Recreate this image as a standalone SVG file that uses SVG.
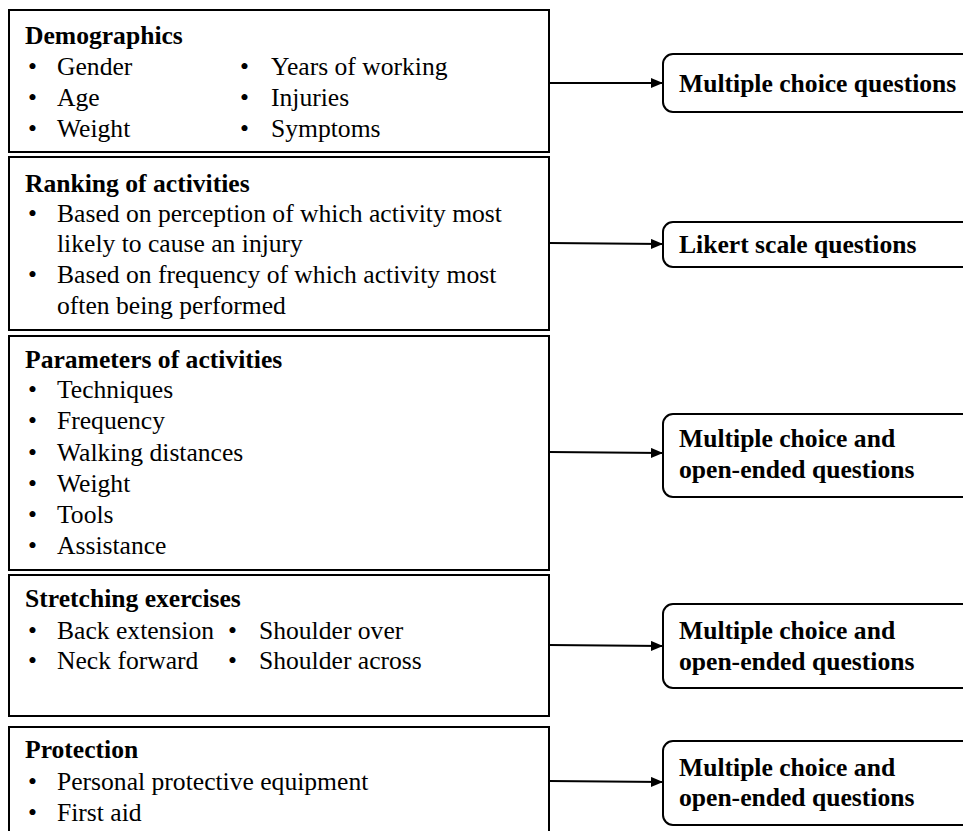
<svg xmlns="http://www.w3.org/2000/svg" width="963" height="831" viewBox="0 0 963 831">
<style>
text{font-family:"Liberation Serif","Times New Roman",serif;font-size:25.6px;fill:#000}
.t{font-weight:bold}
.box{fill:#fff;stroke:#000;stroke-width:2}
.rb{fill:#fff;stroke:#000;stroke-width:2}
.c{stroke:#000;stroke-width:2;fill:none}
</style>
<defs>
<marker id="ah" markerWidth="12" markerHeight="10" refX="12" refY="5" orient="auto" markerUnits="userSpaceOnUse">
<path d="M0,0 L12,5 L0,10 Z" fill="#000"/>
</marker>
</defs>
<rect width="963" height="831" fill="#fff"/>
<g id="demographics">
<rect class="box" x="9" y="10" width="540" height="142"/>
<text class="t" x="25" y="44">Demographics</text>
<text x="28" y="75">•</text><text x="57" y="75">Gender</text>
<text x="28" y="106">•</text><text x="57" y="106">Age</text>
<text x="28" y="137">•</text><text x="57" y="137">Weight</text>
<text x="240" y="75">•</text><text x="271" y="75">Years of working</text>
<text x="240" y="106">•</text><text x="271" y="106">Injuries</text>
<text x="240" y="137">•</text><text x="271" y="137">Symptoms</text>
</g>
<g id="ranking">
<rect class="box" x="9" y="157" width="540" height="173"/>
<text class="t" x="25" y="192">Ranking of activities</text>
<text x="28" y="222">•</text><text x="57" y="222">Based on perception of which activity most</text>
<text x="57" y="252">likely to cause an injury</text>
<text x="28" y="283">•</text><text x="57" y="283">Based on frequency of which activity most</text>
<text x="57" y="314">often being performed</text>
</g>
<g id="parameters">
<rect class="box" x="9" y="336" width="540" height="234"/>
<text class="t" x="25" y="368">Parameters of activities</text>
<text x="28" y="398">•</text><text x="57" y="398">Techniques</text>
<text x="28" y="429">•</text><text x="57" y="429">Frequency</text>
<text x="28" y="461">•</text><text x="57" y="461">Walking distances</text>
<text x="28" y="492">•</text><text x="57" y="492">Weight</text>
<text x="28" y="523">•</text><text x="57" y="523">Tools</text>
<text x="28" y="554">•</text><text x="57" y="554">Assistance</text>
</g>
<g id="stretching">
<rect class="box" x="9" y="575" width="540" height="141"/>
<text class="t" x="25" y="607">Stretching exercises</text>
<text x="28" y="639">•</text><text x="57" y="639">Back extension</text>
<text x="28" y="669">•</text><text x="57" y="669">Neck forward</text>
<text x="228" y="639">•</text><text x="259" y="639">Shoulder over</text>
<text x="228" y="669">•</text><text x="259" y="669">Shoulder across</text>
</g>
<g id="protection">
<rect class="box" x="9" y="727" width="540" height="120"/>
<text class="t" x="25" y="758">Protection</text>
<text x="28" y="790">•</text><text x="57" y="790">Personal protective equipment</text>
<text x="28" y="821">•</text><text x="57" y="821">First aid</text>
</g>
<g id="q1">
<rect class="rb" x="663" y="54" width="320" height="58" rx="10"/>
<text class="t" x="679" y="92">Multiple choice questions</text>
</g>
<g id="q2">
<rect class="rb" x="663" y="222" width="320" height="45" rx="10"/>
<text class="t" x="679" y="253">Likert scale questions</text>
</g>
<g id="q3">
<rect class="rb" x="663" y="414" width="320" height="83" rx="10"/>
<text class="t" x="679" y="447">Multiple choice and</text>
<text class="t" x="679" y="478">open-ended questions</text>
</g>
<g id="q4">
<rect class="rb" x="663" y="604" width="320" height="84" rx="10"/>
<text class="t" x="679" y="639">Multiple choice and</text>
<text class="t" x="679" y="670">open-ended questions</text>
</g>
<g id="q5">
<rect class="rb" x="663" y="741" width="320" height="84" rx="10"/>
<text class="t" x="679" y="776">Multiple choice and</text>
<text class="t" x="679" y="806">open-ended questions</text>
</g>
<g id="connectors">
<line class="c" x1="549" y1="83" x2="663" y2="83" marker-end="url(#ah)"/>
<line class="c" x1="549" y1="243" x2="663" y2="244" marker-end="url(#ah)"/>
<line class="c" x1="549" y1="452" x2="663" y2="453" marker-end="url(#ah)"/>
<line class="c" x1="549" y1="645" x2="663" y2="646" marker-end="url(#ah)"/>
<line class="c" x1="549" y1="781" x2="663" y2="782" marker-end="url(#ah)"/>
</g>
</svg>
